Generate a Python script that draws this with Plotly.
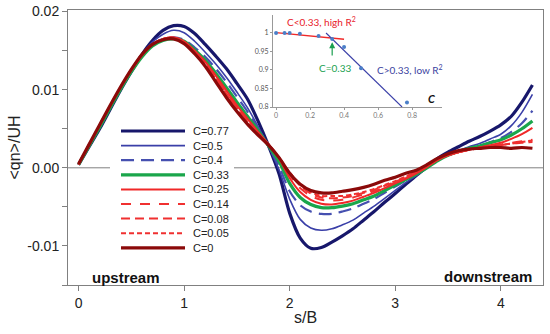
import plotly.graph_objects as go

# ---------------- data ----------------
s = [0.0, 0.1, 0.2, 0.3, 0.4, 0.5, 0.6, 0.7, 0.8, 0.9, 1.0, 1.1, 1.2, 1.3, 1.4,
     1.5, 1.6, 1.7, 1.8, 1.9, 2.0, 2.1, 2.2, 2.3, 2.4, 2.5, 2.6, 2.7, 2.8, 2.9,
     3.0, 3.1, 3.2, 3.3, 3.4, 3.5, 3.6, 3.7, 3.8, 3.9, 4.0, 4.1, 4.2, 4.3]

c077 = [0.0004, 0.0027, 0.0050, 0.0075, 0.0100, 0.0123, 0.0145, 0.0163, 0.0176, 0.0182,
        0.0181, 0.0172, 0.0158, 0.0143, 0.0127, 0.0108, 0.0088, 0.0060, 0.0028, -0.0008,
        -0.0058, -0.0090, -0.0103, -0.0102, -0.0095, -0.0087, -0.0078, -0.0067, -0.0056, -0.0044,
        -0.0033, -0.0021, -0.0010, 0.0001, 0.0012, 0.0020, 0.0027, 0.0034, 0.0040, 0.0047,
        0.0055, 0.0066, 0.0084, 0.0106]
c050 = [0.0004, 0.0028, 0.0051, 0.0076, 0.0101, 0.0124, 0.0145, 0.0161, 0.0171, 0.0176,
        0.0173, 0.0162, 0.0148, 0.0133, 0.0116, 0.0097, 0.0077, 0.0053, 0.0027, -0.0003,
        -0.0040, -0.0066, -0.0077, -0.0080, -0.0078, -0.0073, -0.0067, -0.0058, -0.0049, -0.0039,
        -0.0029, -0.0019, -0.0010, 0.0000, 0.0010, 0.0017, 0.0022, 0.0027, 0.0031, 0.0037,
        0.0043, 0.0054, 0.0071, 0.0094]
c040 = [0.0004, 0.0028, 0.0052, 0.0077, 0.0102, 0.0124, 0.0144, 0.0158, 0.0165, 0.0167,
        0.0164, 0.0154, 0.0142, 0.0127, 0.0110, 0.0091, 0.0072, 0.0051, 0.0027, 0.0002,
        -0.0030, -0.0048, -0.0056, -0.0059, -0.0059, -0.0056, -0.0052, -0.0046, -0.0040, -0.0032,
        -0.0024, -0.0016, -0.0008, 0.0001, 0.0010, 0.0016, 0.0021, 0.0025, 0.0028, 0.0033,
        0.0038, 0.0046, 0.0057, 0.0073]
c033 = [0.0004, 0.0028, 0.0052, 0.0077, 0.0101, 0.0123, 0.0142, 0.0156, 0.0163, 0.0165,
        0.0162, 0.0151, 0.0138, 0.0121, 0.0103, 0.0084, 0.0066, 0.0048, 0.0028, 0.0008,
        -0.0020, -0.0038, -0.0047, -0.0051, -0.0051, -0.0049, -0.0046, -0.0041, -0.0036, -0.0029,
        -0.0022, -0.0015, -0.0008, 0.0000, 0.0009, 0.0016, 0.0021, 0.0025, 0.0028, 0.0032,
        0.0036, 0.0042, 0.0050, 0.0060]
c025 = [0.0004, 0.0029, 0.0054, 0.0079, 0.0103, 0.0125, 0.0144, 0.0158, 0.0165, 0.0167,
        0.0162, 0.0150, 0.0136, 0.0118, 0.0099, 0.0080, 0.0063, 0.0046, 0.0030, 0.0012,
        -0.0013, -0.0031, -0.0041, -0.0046, -0.0047, -0.0045, -0.0042, -0.0037, -0.0032, -0.0026,
        -0.0020, -0.0014, -0.0007, 0.0001, 0.0010, 0.0016, 0.0020, 0.0023, 0.0026, 0.0029,
        0.0032, 0.0037, 0.0043, 0.0051]
c014 = [0.0005, 0.0030, 0.0054, 0.0079, 0.0103, 0.0125, 0.0144, 0.0158, 0.0165, 0.0167,
        0.0161, 0.0149, 0.0134, 0.0116, 0.0096, 0.0078, 0.0061, 0.0045, 0.0030, 0.0013,
        -0.0009, -0.0026, -0.0036, -0.0041, -0.0042, -0.0041, -0.0038, -0.0034, -0.0030, -0.0025,
        -0.0019, -0.0013, -0.0006, 0.0002, 0.0010, 0.0016, 0.0020, 0.0023, 0.0026, 0.0028,
        0.0030, 0.0032, 0.0034, 0.0036]
c008 = [0.0005, 0.0030, 0.0055, 0.0080, 0.0104, 0.0126, 0.0144, 0.0158, 0.0165, 0.0166,
        0.0161, 0.0148, 0.0133, 0.0115, 0.0095, 0.0077, 0.0060, 0.0045, 0.0030, 0.0013,
        -0.0007, -0.0023, -0.0033, -0.0038, -0.0039, -0.0038, -0.0036, -0.0032, -0.0028, -0.0023,
        -0.0018, -0.0012, -0.0005, 0.0002, 0.0010, 0.0016, 0.0020, 0.0023, 0.0025, 0.0027,
        0.0029, 0.0031, 0.0032, 0.0033]
c005 = [0.0005, 0.0030, 0.0055, 0.0080, 0.0104, 0.0126, 0.0145, 0.0158, 0.0165, 0.0166,
        0.0160, 0.0147, 0.0132, 0.0114, 0.0094, 0.0076, 0.0059, 0.0044, 0.0030, 0.0013,
        -0.0006, -0.0021, -0.0031, -0.0036, -0.0036, -0.0036, -0.0034, -0.0031, -0.0027, -0.0022,
        -0.0017, -0.0011, -0.0005, 0.0003, 0.0011, 0.0016, 0.0020, 0.0023, 0.0025, 0.0027,
        0.0029, 0.0031, 0.0033, 0.0035]
c000 = [0.0005, 0.0030, 0.0055, 0.0080, 0.0104, 0.0126, 0.0145, 0.0158, 0.0164, 0.0165,
        0.0159, 0.0146, 0.0130, 0.0110, 0.0090, 0.0072, 0.0056, 0.0042, 0.0029, 0.0013,
        -0.0007, -0.0021, -0.0029, -0.0032, -0.0032, -0.0030, -0.0028, -0.0025, -0.0021, -0.0016,
        -0.0012, -0.0007, -0.0003, 0.0004, 0.0012, 0.0018, 0.0022, 0.0024, 0.0025, 0.0026,
        0.0026, 0.0025, 0.0026, 0.0025]

series_labels = ["C=0.77", "C=0.5", "C=0.4", "C=0.33", "C=0.25", "C=0.14", "C=0.08", "C=0.05", "C=0"]
series_values = [c077, c050, c040, c033, c025, c014, c008, c005, c000]

x_ticks = [0, 1, 2, 3, 4]
y_ticks = [-0.01, 0.0, 0.01, 0.02]
y_tick_labels = ["-0.01", "0.00", "0.01", "0.02"]
y_minor_ticks = [-0.015, -0.005, 0.005, 0.015]

# inset data
inset_C = [0, 0.05, 0.08, 0.14, 0.25, 0.33, 0.4, 0.5, 0.77]
inset_R2 = [1.0, 1.0, 1.0, 0.998, 0.992, 0.984, 0.962, 0.905, 0.812]
fit_low_C = [0.0, 0.4]
fit_low_R2 = [1.001, 0.983]
fit_high_C = [0.294, 0.741]
fit_high_R2 = [1.0, 0.8]
inset_x_ticks = [0, 0.2, 0.4, 0.6, 0.8]
inset_y_ticks = [0.8, 0.85, 0.9, 0.95, 1.0]

# ---------------- styles ----------------
styles = [
    dict(color="#17176b", width=3.2, dash="solid"),
    dict(color="#3a3fa8", width=1.6, dash="solid"),
    dict(color="#4650b0", width=2.2, dash="13px,7px"),
    dict(color="#1aa64b", width=3.2, dash="solid"),
    dict(color="#f02828", width=2.0, dash="solid"),
    dict(color="#f03030", width=2.0, dash="10px,9px"),
    dict(color="#f03030", width=2.0, dash="9px,5px"),
    dict(color="#f03030", width=2.0, dash="5px,3px"),
    dict(color="#8b0a0a", width=3.2, dash="solid"),
]

# page body margin is removed by post_script, so window px == figure px
W, H = 550, 334
ML, MR, MT, MB = 68, 7, 10, 49
PW, PH = W - ML - MR, H - MT - MB


def px(x):
    """window x px -> paper x"""
    return (x - ML) / PW


def py(y):
    """window y px -> paper y"""
    return (H - MB - y) / PH


FONT = "Arial, Liberation Sans, sans-serif"
INSET_FONT = "Lato, Open Sans, sans-serif"
AXC = "#808080"

fig = go.Figure()

for lab, vals, st in zip(series_labels, series_values, styles):
    fig.add_trace(go.Scatter(
        x=s, y=vals, mode="lines", name=lab, showlegend=False,
        line=dict(color=st["color"], width=st["width"], dash=st["dash"],
                  shape="spline", smoothing=0.8),
        xaxis="x", yaxis="y"))

# inset traces
fig.add_trace(go.Scatter(x=fit_low_C, y=fit_low_R2, mode="lines", showlegend=False,
                         line=dict(color="#f02828", width=1.4), xaxis="x2", yaxis="y2"))
fig.add_trace(go.Scatter(x=fit_high_C, y=fit_high_R2, mode="lines", showlegend=False,
                         line=dict(color="#3a3fa8", width=1.1), xaxis="x2", yaxis="y2"))
fig.add_trace(go.Scatter(x=inset_C, y=inset_R2, mode="markers", showlegend=False,
                         marker=dict(color="#4a7fc8", size=4), cliponaxis=False,
                         xaxis="x2", yaxis="y2"))

shapes = []
# zero line
shapes.append(dict(type="line", xref="paper", yref="y", x0=0, x1=1, y0=0, y1=0,
                   line=dict(color=AXC, width=1), layer="below"))
# legend background (covers zero line)
shapes.append(dict(type="rect", xref="paper", yref="paper",
                   x0=px(110), x1=px(234), y0=py(258), y1=py(122),
                   fillcolor="white", line=dict(width=0), layer="below"))

annotations = []
# legend keys
LEG_Y0, LEG_STEP = 131, 14.6
for i, (lab, st) in enumerate(zip(series_labels, styles)):
    yy = py(LEG_Y0 + i * LEG_STEP)
    shapes.append(dict(type="line", xref="paper", yref="paper",
                       x0=px(121), x1=px(185), y0=yy, y1=yy,
                       line=dict(color=st["color"], width=st["width"], dash=st["dash"]),
                       layer="above"))
    annotations.append(dict(text=lab, xref="paper", yref="paper", x=px(191), y=yy,
                            xanchor="left", yanchor="middle", showarrow=False,
                            font=dict(family=FONT, size=11, color="#222")))

annotations += [
    dict(text="<b>upstream</b>", xref="x", yref="y", x=0.11, y=-0.0141,
         xanchor="left", yanchor="middle", showarrow=False,
         font=dict(family=FONT, size=15, color="#111")),
    dict(text="<b>downstream</b>", xref="x", yref="y", x=4.31, y=-0.0139,
         xanchor="right", yanchor="middle", showarrow=False,
         font=dict(family=FONT, size=15, color="#111")),
    # inset labels
    dict(text="C&lt;0.33, high R<sup>2</sup>", xref="x2", yref="y2", x=0.265, y=1.032,
         showarrow=False, font=dict(family=INSET_FONT, size=10, color="#e8202a")),
    dict(text="C=0.33", xref="x2", yref="y2", x=0.347, y=0.905,
         showarrow=False, font=dict(family=INSET_FONT, size=10, color="#1a9f50")),
    dict(text="", xref="x2", yref="y2", x=0.33, y=0.975, axref="x2", ayref="y2",
         ax=0.33, ay=0.935, showarrow=True, arrowhead=2, arrowsize=1, arrowwidth=1.2,
         arrowcolor="#1a9f50"),
    dict(text="C&gt;0.33, low R<sup>2</sup>", xref="x2", yref="y2", x=0.79, y=0.9,
         showarrow=False, font=dict(family=INSET_FONT, size=10, color="#3b3fa0")),
    dict(text="<b><i>C</i></b>", xref="x2", yref="y2", x=0.918, y=0.822,
         showarrow=False, font=dict(family=INSET_FONT, size=11, color="#111")),
    dict(text="<b>R<sup>2</sup></b>", xref="x2", yref="y2", x=-0.105, y=1.03,
         showarrow=False, textangle=-90, font=dict(family=INSET_FONT, size=8, color="#111")),
]

fig.update_layout(
    width=W, height=H,
    margin=dict(l=ML, r=MR, t=MT, b=MB, pad=0),
    paper_bgcolor="white", plot_bgcolor="white",
    showlegend=False,
    font=dict(family=FONT, size=14, color="#222"),
    xaxis=dict(domain=[0, 1], range=[-0.1, 4.4], tickvals=x_ticks, automargin=False,
               showline=True, mirror=True, linecolor=AXC, linewidth=1,
               ticks="outside", ticklen=5, tickcolor=AXC, showgrid=False, zeroline=False,
               tickfont=dict(size=14, color="#222"),
               title=dict(text="s/B", font=dict(size=16, color="#222"), standoff=2)),
    yaxis=dict(domain=[0, 1], range=[-0.015, 0.0202], tickvals=y_ticks, ticktext=y_tick_labels,
               automargin=False, ticklabeloverflow="allow",
               showline=True, mirror=True, linecolor=AXC, linewidth=1,
               ticks="outside", ticklen=5, tickcolor=AXC, showgrid=False, zeroline=False,
               minor=dict(tickvals=y_minor_ticks, ticks="outside",
                          ticklen=5, tickcolor=AXC, showgrid=False),
               tickfont=dict(size=14, color="#222"),
               title=dict(text="&lt;qn&gt;/UH", font=dict(size=16, color="#222"), standoff=2)),
    xaxis2=dict(domain=[px(273), px(442)], range=[-0.018, 0.976], anchor="y2", automargin=False,
                tickvals=inset_x_ticks, showline=True, linecolor="#999", linewidth=1,
                ticks="outside", ticklen=2, tickcolor="#999", showgrid=False, zeroline=False,
                tickfont=dict(family=INSET_FONT, size=7, color="#777")),
    yaxis2=dict(domain=[py(107), py(15)], range=[0.8, 1.0486], anchor="x2", automargin=False,
                tickvals=inset_y_ticks, showline=True, linecolor="#999", linewidth=1,
                ticks="outside", ticklen=2, tickcolor="#999", showgrid=False, zeroline=False,
                tickfont=dict(family=INSET_FONT, size=7, color="#555")),
    shapes=shapes,
    annotations=annotations,
)

fig.write_html("out.html",
               config={"displayModeBar": False},
               post_script="document.body.style.margin='0';document.body.style.overflow='hidden';")
